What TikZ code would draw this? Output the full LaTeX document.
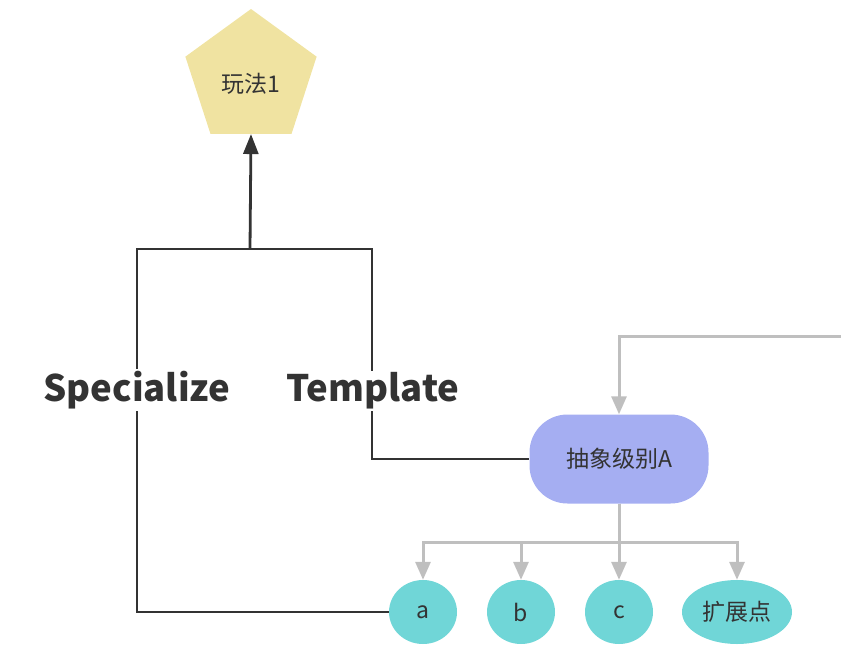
\documentclass[tikz,border=0pt]{standalone}
\usepackage{fontspec}
\setmainfont{Noto Sans CJK SC}
\usetikzlibrary{shapes.geometric,arrows.meta}
\definecolor{penta}{HTML}{F0E3A1}
\definecolor{absc}{HTML}{A5AEF2}
\definecolor{teal}{HTML}{70D6D7}
\definecolor{grayl}{HTML}{BFBFBF}
\definecolor{dark}{HTML}{333333}
\begin{document}
\begin{tikzpicture}[x=1pt,y=-1pt,
  dk/.style={draw=dark,line width=2.8pt},
  gr/.style={draw=grayl,line width=3pt},
  dtip/.style={-{Triangle[width=15pt,length=20pt]}},
  gtip/.style={-{Triangle[width=15pt,length=18pt]}},
  lab/.style={fill=white,text=dark,font=\fontsize{36.5pt}{39pt}\selectfont\bfseries,inner sep=2pt},
  leaf/.style={ellipse,fill=teal,text=dark,inner sep=0pt,font=\fontsize{23pt}{26pt}\selectfont},
  every node/.style={text=dark}]
\useasboundingbox (0,0) rectangle (841,659);
\node[regular polygon,regular polygon sides=5,minimum size=138pt,inner sep=0pt,fill=penta,
  font=\fontsize{23pt}{26pt}\selectfont] (p) at (251,78) {\raisebox{-14pt}[0pt][0pt]{玩法1}};
\node[rectangle,rounded corners=38pt,minimum width=179pt,minimum height=89pt,fill=absc,
  font=\fontsize{23pt}{26pt}\selectfont] (abs) at (619,459) {抽象级别A};
\node[leaf,minimum width=68pt,minimum height=64pt] (a) at (423,612) {a};
\node[leaf,minimum width=68pt,minimum height=64pt] (b) at (521,612) {b};
\node[leaf,minimum width=68pt,minimum height=64pt] (c) at (619,612) {c};
\node[leaf,minimum width=110pt,minimum height=64pt] (ext) at (737,612) {扩展点};
\coordinate (jl) at (137,249);
\coordinate (jr) at (372,249);
\coordinate (j) at (250,249);
\coordinate (in) at (841,336);
\draw[dk] (a.west) -| (jl) -- (jr) |- (abs.west);
\draw[dk,dtip] (j) -- (p.south);
\node[lab] (spec) at (137,390) {Specialize};
\node[lab] (tmpl) at (373,391) {Template};
\draw[gr,gtip] (in) -| (abs.north);
\draw[gr,gtip] (abs.south) -- ++(0,39) -| (a.north);
\draw[gr,gtip] (abs.south) -- ++(0,39) -| (b.north);
\draw[gr,gtip] (abs.south) -- (c.north);
\draw[gr,gtip] (abs.south) -- ++(0,39) -| (ext.north);
\end{tikzpicture}
\end{document}
